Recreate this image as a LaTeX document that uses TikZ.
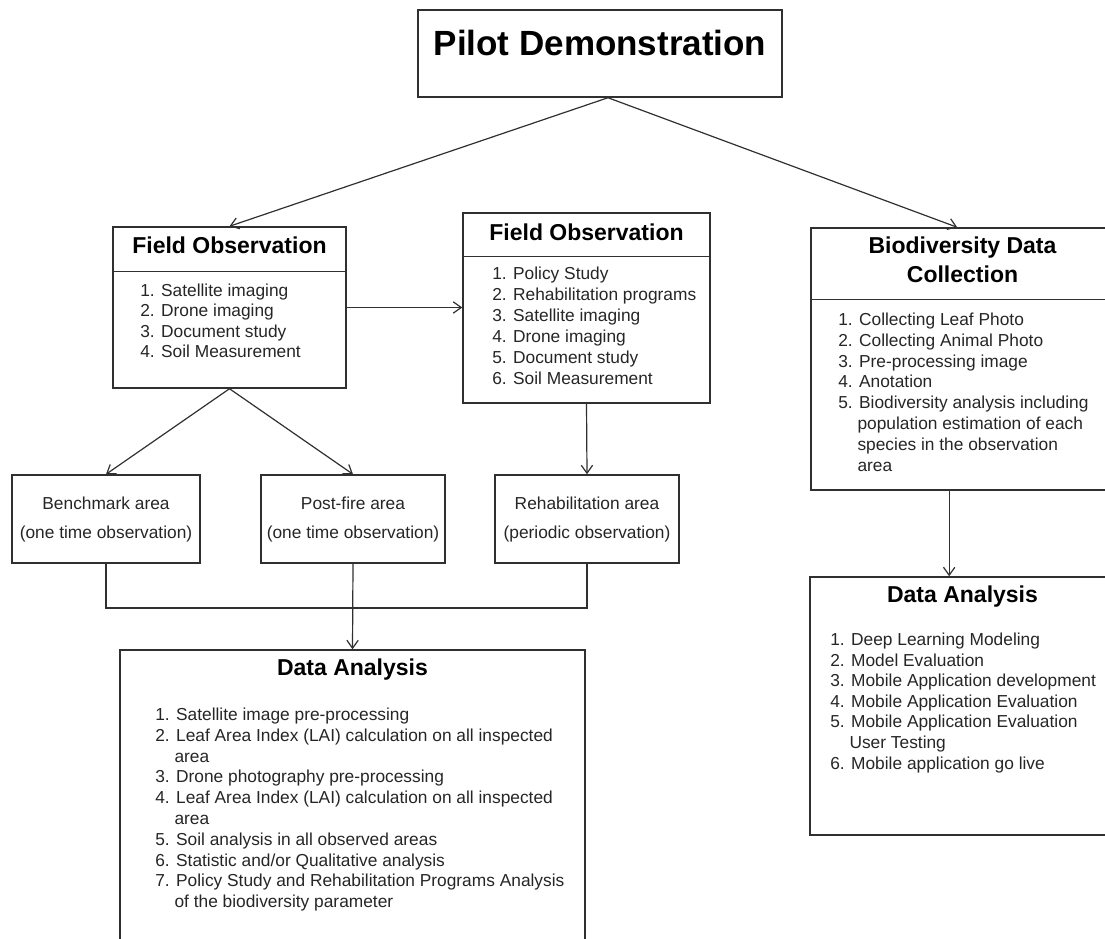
\documentclass[tikz,border=0pt]{standalone}
\usepackage{fontspec}
\setmainfont{Liberation Sans}
\usetikzlibrary{arrows.meta,fit,calc}
\definecolor{edgegray}{HTML}{303030}
\definecolor{txtgray}{HTML}{262626}
% hanging indent for wrapped list lines (width of "1. ")
\newcommand{\hangind}{\hspace*{1.112em}}
\begin{document}
\begin{tikzpicture}[x=0.75pt,y=-0.75pt,
  box/.style={draw=edgegray,line width=1.1pt,fill=white,inner sep=0pt},
  divider/.style={draw=edgegray,line width=1.1pt},
  link/.style={draw=edgegray,line width=0.9pt},
  arr/.style={link,-{Straight Barb[length=6pt,width=8.5pt]}},
  title/.style={font=\fontsize{26.25}{30}\selectfont\bfseries,text height=0.72em,text depth=0pt,inner sep=0pt},
  head/.style={font=\fontsize{17.25}{20}\selectfont\bfseries,text height=0.72em,text depth=0pt,inner sep=0pt},
  item/.style={font=\fontsize{13}{15.6}\selectfont,text=txtgray,text height=0.72em,text depth=0.21em,inner sep=0pt},
]
\useasboundingbox (0,0) rectangle (1105,938);
\clip (0,0) rectangle (1105,938);

% ---------- boxes ----------
\node[box,fit={(418,10) (782,97)}] (pilot) {};
\node[box,fit={(113,227) (346,388)}] (foL) {};
\node[box,fit={(463,213) (710,403)}] (foM) {};
\node[box,fit={(811,228) (1114,490)}] (bio) {};
\node[box,fit={(12,475) (200,563)}] (bench) {};
\node[box,fit={(261,475) (445,563)}] (post) {};
\node[box,fit={(495,475) (679,563)}] (rehab) {};
\node[box,fit={(120,650) (585,960)}] (da1) {};
\node[box,fit={(810,577) (1115,835)}] (da2) {};

% header dividers
\draw[divider] ($(foL.north west)+(0,45)$) -- ($(foL.north east)+(0,45)$);
\draw[divider] ($(foM.north west)+(0,44)$) -- ($(foM.north east)+(0,44)$);
\draw[divider] ($(bio.north west)+(0,72)$) -- ($(bio.north east)+(0,72)$);

% ---------- titles ----------
\node[title] (pilotT) at (600,51) {Pilot Demonstration};
\node[head] (foLT) at (229.5,249) {Field Observation};
\node[head] (foMT) at (586.5,236) {Field Observation};
\node[head] (bioT1) at (962.5,249) {Biodiversity Data};
\node[head] (bioT2) at (962.5,277.5) {Collection};
\node[head] (da1T) at (352.5,671) {Data Analysis};
\node[head] (da2T) at (962.5,598) {Data Analysis};

% ---------- lists ----------
\foreach \t [count=\i] in {1. Satellite imaging, 2. Drone imaging,
    3. Document study, 4. Soil Measurement}
  \node[item,anchor=west] (foLi\i) at (140,{293+20.3*(\i-1)}) {\t};

\foreach \t [count=\i] in {1. Policy Study, 2. Rehabilitation programs,
    3. Satellite imaging, 4. Drone imaging, 5. Document study,
    6. Soil Measurement}
  \node[item,anchor=west] (foMi\i) at (492,{276+21*(\i-1)}) {\t};

\foreach \t [count=\i] in {1. Collecting Leaf Photo, 2. Collecting Animal Photo,
    3. Pre-processing image, 4. Anotation,
    5. Biodiversity analysis including,
    \hangind population estimation of each,
    \hangind species in the observation, \hangind area}
  \node[item,anchor=west] (bioi\i) at (838,{322+20.8*(\i-1)}) {\t};

\foreach \t [count=\i] in {1. Deep Learning Modeling, 2. Model Evaluation,
    3. Mobile Application development, 4. Mobile Application Evaluation,
    5. Mobile Application Evaluation, \hangind User Testing,
    6. Mobile application go live}
  \node[item,anchor=west] (da2i\i) at (830,{642+20.6*(\i-1)}) {\t};

\foreach \t [count=\i] in {1. Satellite image pre-processing,
    2. Leaf Area Index (LAI) calculation on all inspected, \hangind area,
    3. Drone photography pre-processing,
    4. Leaf Area Index (LAI) calculation on all inspected, \hangind area,
    5. Soil analysis in all observed areas,
    6. Statistic and/or Qualitative analysis,
    7. Policy Study and Rehabilitation Programs Analysis,
    \hangind of the biodiversity parameter}
  \node[item,anchor=west] (da1i\i) at (155,{717+20.8*(\i-1)}) {\t};

% area labels
\node[item] (benchA) at (106,506) {Benchmark area};
\node[item] (benchB) at (106,535) {(one time observation)};
\node[item] (postA) at (353,506) {Post-fire area};
\node[item] (postB) at (353,535) {(one time observation)};
\node[item] (rehabA) at (587,506) {Rehabilitation area};
\node[item] (rehabB) at (587,535) {(periodic observation)};

% ---------- connectors ----------
\draw[arr] ([xshift=6pt]pilot.south) -- (foL.north);
\draw[arr] ([xshift=6pt]pilot.south) -- ([xshift=-4pt]bio.north);
\draw[arr] (foL.east) -- (foL.east -| foM.west);
\draw[arr] (foL.south) -- (bench.north);
\draw[arr] (foL.south) -- (post.north);
\draw[arr] (foM.south) -- (rehab.north);
\coordinate (join) at (352,608);
\draw[link] (bench.south) -- (bench.south |- join) -- (rehab.south |- join) -- (rehab.south);
\draw[arr] (post.south) -- (da1.north);
\draw[arr] ([xshift=-10pt]bio.south) -- ([xshift=-10pt]bio.south |- da2.north);
\end{tikzpicture}
\end{document}
